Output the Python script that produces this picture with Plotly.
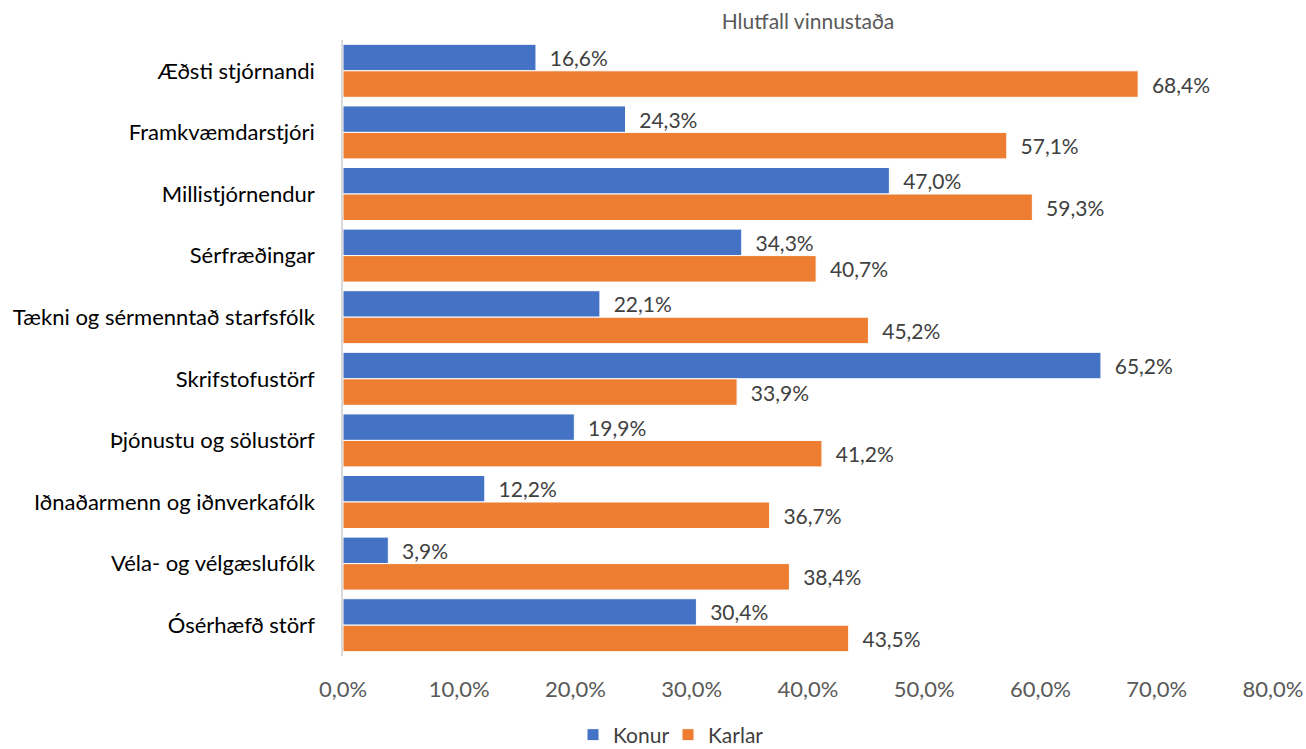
import plotly.graph_objects as go

categories = ["Æðsti stjórnandi", "Framkvæmdarstjóri", "Millistjórnendur", "Sérfræðingar",
              "Tækni og sérmenntað starfsfólk", "Skrifstofustörf", "Þjónustu og sölustörf",
              "Iðnaðarmenn og iðnverkafólk", "Véla- og vélgæslufólk", "Ósérhæfð störf"]
konur = [16.6, 24.3, 47.0, 34.3, 22.1, 65.2, 19.9, 12.2, 3.9, 30.4]
karlar = [68.4, 57.1, 59.3, 40.7, 45.2, 33.9, 41.2, 36.7, 38.4, 43.5]
tick_vals = [0, 10, 20, 30, 40, 50, 60, 70, 80]
tick_text = ["0,0%", "10,0%", "20,0%", "30,0%", "40,0%", "50,0%", "60,0%", "70,0%", "80,0%"]

FONT = "Lato"
fig = go.Figure()
for name, vals, color in [("Konur", konur, "#4472C4"), ("Karlar", karlar, "#ED7D31")]:
    fig.add_trace(go.Bar(
        y=categories, x=vals, name=name, orientation="h",
        marker=dict(color=color, line=dict(color="white", width=1)),
        texttemplate="  %{x:.1f}%", textposition="outside", cliponaxis=False,
        textfont=dict(family=FONT, size=21, color="#404040"),
        hoverinfo="skip",
    ))

fig.update_layout(
    width=1306, height=749,
    barmode="group", bargap=0.14, bargroupgap=0,
    separators=",.",
    plot_bgcolor="white", paper_bgcolor="white",
    margin=dict(l=343, r=33, t=40, b=93, autoexpand=False),
    title=dict(text="Hlutfall vinnustaða", x=(343 + 1273) / 2 / 1306, xanchor="center",
               y=1 - 22 / 749, yanchor="middle",
               font=dict(family=FONT, size=21, color="#595959")),
    xaxis=dict(range=[0, 80], tickvals=tick_vals, ticktext=tick_text,
               showgrid=False, zeroline=False, showline=False,
               tickfont=dict(family=FONT, size=22, color="#595959"), ticklen=0, ticks="",
               ticklabelstandoff=18, fixedrange=True),
    yaxis=dict(autorange="reversed", showgrid=False, showline=True, linecolor="#D9D9D9",
               linewidth=1.5, ticks="", ticklabelstandoff=22,
               tickfont=dict(family=FONT, size=22, color="#000000")),
    legend=dict(orientation="h", x=(668 - 343) / 930, xanchor="center",
                yref="container", y=1 - 735 / 749, yanchor="middle",
                font=dict(family=FONT, size=21, color="#404040"),
                traceorder="normal", itemwidth=30, entrywidth=50,
                tracegroupgap=0),
    showlegend=True,
)
fig.write_html("out.html")
